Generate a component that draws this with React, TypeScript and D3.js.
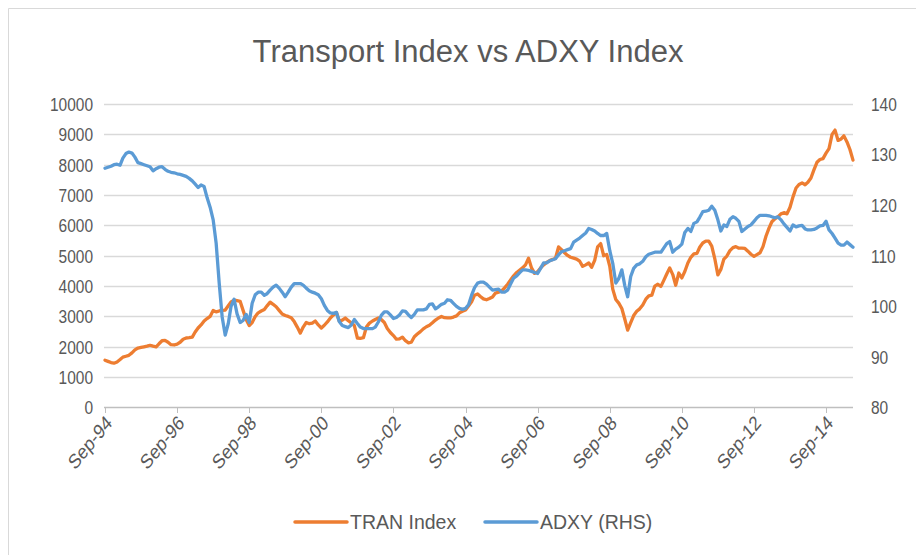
import React, { useRef, useEffect } from 'react';
import * as d3 from 'd3';

// monthly observations, first month Sep-94
const startMonth = new Date(1994, 8, 1);

const tranIndex = [
  1560, 1520, 1480, 1460, 1500, 1580, 1660, 1690, 1720, 1800,
  1900, 1960, 1980, 2000, 2020, 2050, 2020, 2000, 2100, 2200,
  2210, 2150, 2070, 2060, 2090, 2150, 2250, 2290, 2300, 2320,
  2480, 2620, 2720, 2850, 2930, 3000, 3200, 3150, 3180, 3200,
  3210, 3350, 3480, 3540, 3520, 3500, 3200, 2900, 2700, 2800,
  3000, 3120, 3180, 3230, 3350, 3470, 3400, 3320, 3200, 3080,
  3030, 3000, 2960, 2830, 2650, 2450, 2650, 2800, 2760, 2780,
  2850, 2720, 2620, 2710, 2820, 2950, 3050, 3130, 2850, 2880,
  2950, 2860, 2790, 2700, 2290, 2280, 2300, 2650, 2780, 2850,
  2900, 2950, 2900, 2800, 2600, 2470, 2370, 2250, 2260, 2320,
  2200, 2130, 2150, 2330, 2420, 2500, 2590, 2660, 2710, 2790,
  2880, 2950, 3000, 2960, 2950, 2950, 2980, 3020, 3120, 3170,
  3210, 3340, 3480, 3700, 3740, 3650, 3580, 3550, 3590, 3640,
  3770, 3800, 3840, 3940, 4060, 4200, 4340, 4450, 4520, 4600,
  4700, 4920, 4600, 4420, 4470, 4600, 4700, 4780, 4840, 4880,
  4920, 5290, 5200, 5100, 5010, 4950, 4920, 4890, 4820, 4650,
  4700, 4760, 4620, 4850, 5290, 5400, 5000, 5040, 4650, 3900,
  3560, 3440, 3260, 2900, 2550, 2800, 3030, 3170, 3250, 3380,
  3570, 3680, 3700, 4000, 4060, 3990, 4180, 4400, 4600, 4380,
  4030, 4430, 4270, 4480, 4760, 4950, 5060, 5080, 5280, 5420,
  5480, 5480, 5320, 4900, 4370, 4550, 4890, 4990, 5170, 5270,
  5300, 5250, 5250, 5240, 5150, 5050, 4980, 5040, 5100, 5300,
  5650, 5920, 6120, 6220, 6280, 6380, 6420, 6380, 6600, 6940,
  7230, 7350, 7400, 7340, 7420, 7560, 7830, 8080, 8170, 8200,
  8380, 8530, 9000, 9140, 8800, 8850, 8950, 8750, 8500, 8150
];

const adxy = [
  127.3, 127.5, 127.7, 128.0, 128.1, 127.9, 129.3, 130.2, 130.5, 130.3,
  129.5, 128.4, 128.2, 128.0, 127.8, 127.6, 126.8, 127.2, 127.5, 127.6,
  127.1, 126.7, 126.5, 126.4, 126.2, 126.1, 125.9, 125.7, 125.3, 124.8,
  124.2, 123.5, 124.0, 123.7, 121.5, 119.6, 117.1, 112.5, 104.6, 97.9,
  94.3, 96.6, 100.0, 101.4, 98.5, 96.8, 97.2, 98.4, 96.8, 100.6,
  102.3, 102.8, 102.8, 102.2, 102.5, 103.2, 103.8, 104.2, 103.6, 102.8,
  101.9, 102.8, 103.8, 104.5, 104.5, 104.5, 104.2, 103.6, 103.1, 102.8,
  102.6, 102.3, 101.5, 100.2, 99.2, 98.7, 98.6, 98.8, 97.0, 96.2,
  96.0, 95.8, 96.3, 97.4, 96.6, 95.9, 95.6, 95.6, 95.6, 95.6,
  95.9, 96.9, 98.2, 98.9, 98.9, 98.3, 97.6, 97.8, 98.3, 99.1,
  99.0, 98.3, 97.8, 98.4, 99.3, 99.3, 99.3, 99.5, 100.4, 100.5,
  99.5, 99.9, 100.4, 100.6, 101.3, 101.2, 100.6, 100.0, 99.6, 99.4,
  99.6, 100.3, 102.2, 103.7, 104.6, 104.8, 104.8, 104.4, 103.8, 103.2,
  103.3, 103.4, 102.8, 102.8, 103.2, 104.4, 105.6, 106.0, 106.6, 107.2,
  107.2, 107.1, 106.9, 106.7, 106.5, 107.5, 108.6, 108.6, 109.0, 109.2,
  109.4, 110.2, 110.8, 111.0, 111.2, 111.4, 112.7, 113.1, 113.5, 114.0,
  114.5, 115.4, 115.2, 114.9, 114.4, 114.0, 114.0, 114.4, 111.0, 108.5,
  104.6, 105.5, 107.2, 104.0, 101.9, 105.9, 107.5, 108.2, 108.4, 108.9,
  109.8, 110.3, 110.5, 110.7, 110.7, 110.7, 111.5, 112.4, 112.8, 110.7,
  111.3, 111.7, 112.3, 114.6, 115.4, 114.8, 116.4, 116.7, 117.6, 118.7,
  118.8, 119.0, 119.8, 119.0, 117.1, 114.9, 116.1, 115.8, 117.2, 117.7,
  117.4, 116.8, 114.8, 115.3, 115.8, 116.1, 116.8, 117.5, 118.0, 118.0,
  118.0, 117.9, 117.7, 117.5, 117.7, 117.1, 116.3, 115.6, 114.9, 116.1,
  115.7, 115.9, 116.0, 115.3, 115.1, 115.1, 115.2, 115.5, 115.9, 116.0,
  116.8, 115.1, 114.4, 113.5, 112.5, 112.1, 112.1, 112.7, 112.2, 111.7
];

const leftTicks = [0, 1000, 2000, 3000, 4000, 5000, 6000, 7000, 8000, 9000, 10000];
const rightTicks = [80, 90, 100, 110, 120, 130, 140];
const seriesNames = ['TRAN Index', 'ADXY (RHS)'];
const seriesColors = ['#ED7D31', '#5B9BD5'];
const chartTitle = 'Transport Index vs ADXY Index';

const W = 916;
const H = 555;
const FONT = '"Liberation Sans", Arial, sans-serif';
const TEXT = '#595959';
const STRETCH = 1.22; // axis text in the picture is taller than it is wide

function App() {
  const ref = useRef(null);

  useEffect(() => {
    const svg = d3.select(ref.current);
    svg.selectAll('*').remove();

    const months = tranIndex.map((_, i) => d3.timeMonth.offset(startMonth, i));
    const x = d3.scaleTime()
      .domain([months[0], months[months.length - 1]])
      .range([105, 853]);
    const yL = d3.scaleLinear().domain([0, 10000]).range([407.5, 104]);
    const yR = d3.scaleLinear().domain([80, 140]).range([407.5, 104]);

    // chart frame
    svg.append('path')
      .attr('d', 'M8.5,560V8.5H930')
      .attr('fill', 'none')
      .attr('stroke', '#D9D9D9');

    svg.append('text')
      .attr('x', 468)
      .attr('y', 62)
      .attr('text-anchor', 'middle')
      .attr('font-family', FONT)
      .attr('font-size', 31)
      .attr('fill', TEXT)
      .text(chartTitle);

    // gridlines
    svg.append('g')
      .selectAll('line')
      .data(leftTicks.slice(1))
      .enter()
      .append('line')
      .attr('x1', 104)
      .attr('x2', 853)
      .attr('y1', d => Math.round(yL(d)) + 0.5)
      .attr('y2', d => Math.round(yL(d)) + 0.5)
      .attr('stroke', '#D9D9D9')
      .attr('stroke-width', 1.3);

    // x axis line and ticks
    const tickDates = d3.range(0, 241, 24).map(m => d3.timeMonth.offset(startMonth, m));
    svg.append('line')
      .attr('x1', 104).attr('x2', 853)
      .attr('y1', 407.5).attr('y2', 407.5)
      .attr('stroke', '#BFBFBF')
      .attr('stroke-width', 1.3);
    svg.append('g')
      .selectAll('line')
      .data(tickDates)
      .enter()
      .append('line')
      .attr('x1', d => Math.round(x(d)) + 0.5)
      .attr('x2', d => Math.round(x(d)) + 0.5)
      .attr('y1', 407.5)
      .attr('y2', 413)
      .attr('stroke', '#BFBFBF');

    const fmt = d3.timeFormat('%b-%y');
    svg.append('g')
      .selectAll('text')
      .data(tickDates)
      .enter()
      .append('text')
      .attr('transform', d => `translate(${x(d) + 4},${419}) scale(1,${STRETCH}) rotate(-45)`)
      .attr('text-anchor', 'end')
      .attr('dy', '0.35em')
      .attr('font-family', FONT)
      .attr('font-size', 16.8)
      .attr('fill', TEXT)
      .text(d => fmt(d));

    // left axis labels
    svg.append('g')
      .selectAll('text')
      .data(leftTicks)
      .enter()
      .append('text')
      .attr('transform', d => `translate(93,${yL(d)}) scale(1,${STRETCH})`)
      .attr('text-anchor', 'end')
      .attr('dy', '0.36em')
      .attr('font-family', FONT)
      .attr('font-size', 15.5)
      .attr('fill', TEXT)
      .text(d => d);

    // right axis labels
    svg.append('g')
      .selectAll('text')
      .data(rightTicks)
      .enter()
      .append('text')
      .attr('transform', d => `translate(871,${yR(d)}) scale(1,${STRETCH})`)
      .attr('text-anchor', 'start')
      .attr('dy', '0.36em')
      .attr('font-family', FONT)
      .attr('font-size', 15.5)
      .attr('fill', TEXT)
      .text(d => d);

    const lineL = d3.line()
      .x((d, i) => x(months[i]))
      .y(d => yL(d));
    const lineR = d3.line()
      .x((d, i) => x(months[i]))
      .y(d => yR(d));

    svg.append('path')
      .datum(tranIndex)
      .attr('d', lineL)
      .attr('fill', 'none')
      .attr('stroke', seriesColors[0])
      .attr('stroke-width', 3.3)
      .attr('stroke-linejoin', 'round')
      .attr('stroke-linecap', 'round');

    svg.append('path')
      .datum(adxy)
      .attr('d', lineR)
      .attr('fill', 'none')
      .attr('stroke', seriesColors[1])
      .attr('stroke-width', 3.3)
      .attr('stroke-linejoin', 'round')
      .attr('stroke-linecap', 'round');

    // legend
    const legendX = [295, 485];
    const legend = svg.append('g')
      .selectAll('g')
      .data(seriesNames)
      .enter()
      .append('g')
      .attr('transform', (d, i) => `translate(${legendX[i]},522)`);
    legend.append('line')
      .attr('x1', 0).attr('x2', 52)
      .attr('y1', 0).attr('y2', 0)
      .attr('stroke', (d, i) => seriesColors[i])
      .attr('stroke-width', 3.5)
      .attr('stroke-linecap', 'round');
    legend.append('text')
      .attr('x', 55)
      .attr('dy', '0.36em')
      .attr('font-family', FONT)
      .attr('font-size', 19.5)
      .attr('fill', TEXT)
      .text(d => d);
  }, []);

  return (
    <svg
      ref={ref}
      width={W}
      height={H}
      style={{ position: 'absolute', left: 0, top: 0, background: '#fff' }}
    />
  );
}

export default App;
